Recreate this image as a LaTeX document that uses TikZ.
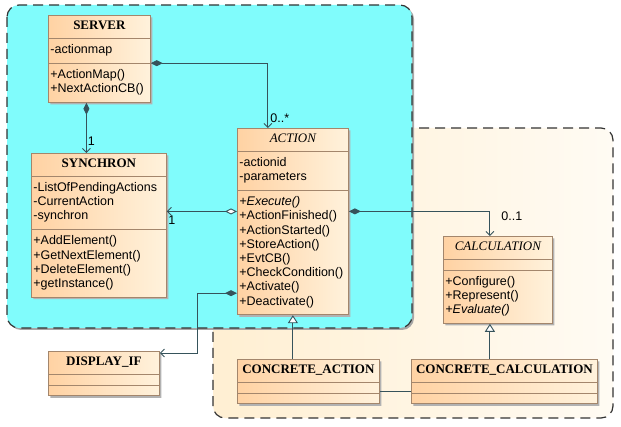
\documentclass[tikz,border=0pt]{standalone}
\usepackage{fontspec}
\setmainfont{Liberation Sans}
\newfontfamily\clsserif{Liberation Serif}
\usepackage{tikz}
\usetikzlibrary{positioning,arrows.meta,shapes.multipart,shadows}
\definecolor{regioncyan}{HTML}{80FCFC}
\definecolor{regioncream}{HTML}{FFEFD2}
\definecolor{regionwhite}{HTML}{FFFBF3}
\definecolor{clsleft}{HTML}{FFD2A3}
\definecolor{clsright}{HTML}{FFF2DC}
\definecolor{clsline}{HTML}{A3866C}
\definecolor{linkgray}{HTML}{36535B}
\newcommand{\clsname}[1]{\makebox[\linewidth]{\clsserif\bfseries\fontsize{13}{14}\selectfont\rule[-3pt]{0pt}{12pt}#1}}
\newcommand{\clsabstract}[1]{\makebox[\linewidth]{\clsserif\itshape\fontsize{13}{14}\selectfont\rule[-3pt]{0pt}{12pt}#1}}

\begin{document}
\begin{tikzpicture}[x=1pt, y=-1pt,
    region/.style={draw=black!80, line width=1.2pt, dash pattern=on 10pt off 6pt, rounded corners=12pt},
    umlclass/.style={rectangle split, rectangle split parts=3, draw=clsline, line width=0.8pt, left color=clsleft, right color=clsright, anchor=north west, inner xsep=2pt, inner ysep=5pt, align=left, font=\fontsize{12.5}{14.2}\selectfont, rectangle split empty part height=0pt, rectangle split empty part depth=0pt, drop shadow={shadow xshift=2pt, shadow yshift=-2pt, fill=black!30, opacity=1}},
    link/.style={draw=linkgray, line width=0.9pt},
    comp/.style={link, {Diamond[length=12pt, width=6pt]}-{Straight Barb[length=4pt, width=8pt]}},
    aggr/.style={link, {Diamond[open, fill=white, length=12pt, width=6pt]}-{Straight Barb[length=4pt, width=8pt]}},
    gen/.style={link, -{Triangle[open, fill=white, length=8pt, width=10pt]}},
    mult/.style={font=\fontsize{12.5}{14}\selectfont, inner sep=1pt},
]
\useasboundingbox (0,0) rectangle (621,427);

% packages
\draw[region, left color=regioncream, right color=regionwhite] (213,128) rectangle (613,418);
\draw[region, fill=regioncyan, drop shadow={shadow xshift=2pt, shadow yshift=-2pt, fill=black!35, opacity=1}] (7,5) rectangle (412,328);

% classes
\node[umlclass, text width=98pt] (SRV) at (48,15) {\clsname{SERVER}
  \nodepart{two}\strut-actionmap\strut
  \nodepart{three}\strut+ActionMap()\\+NextActionCB()\strut};
\node[umlclass, text width=131pt] (SYN) at (31,153) {\clsname{SYNCHRON}
  \nodepart{two}\strut-ListOfPendingActions\\-CurrentAction\\-synchron\strut
  \nodepart{three}\strut+AddElement()\\+GetNextElement()\\+DeleteElement()\\+getInstance()\strut};
\node[umlclass, text width=107pt] (ACT) at (237,128) {\clsabstract{ACTION}
  \nodepart{two}\strut-actionid\\-parameters\strut
  \nodepart{three}\strut\textit{+Execute()}\\+ActionFinished()\\+ActionStarted()\\+StoreAction()\\+EvtCB()\\+CheckCondition()\\+Activate()\\+Deactivate()\strut};
\node[umlclass, text width=105pt] (CALC) at (443,236) {\clsabstract{CALCULATION}
  \nodepart{two}
  \nodepart{three}\strut+Configure()\\+Represent()\\\textit{+Evaluate()}\strut};
\node[umlclass, text width=107pt] (DSP) at (48,351) {\clsname{DISPLAY\_IF}\nodepart{two}\nodepart{three}};
\node[umlclass, text width=138pt] (CA) at (237,359) {\clsname{CONCRETE\_ACTION}\nodepart{two}\nodepart{three}};
\node[umlclass, text width=182pt] (CC) at (411,359) {\clsname{CONCRETE\_CALCULATION}\nodepart{two}\nodepart{three}};

% relations
\draw[comp] (SRV.two split east) -| ([xshift=-25pt]ACT.north) node[mult, at end, anchor=south west, xshift=1pt, yshift=4pt] {0..*};
\draw[comp] ([xshift=-13pt]SRV.south) -- ([xshift=-13pt]SRV.south |- SYN.north) node[mult, at end, anchor=south west, yshift=6pt] {1};
\draw[aggr] ([yshift=-21pt]ACT.two split west) -- ([yshift=-21pt]ACT.two split west -| SYN.east) node[mult, at end, anchor=north west, yshift=-3pt] {1};
\draw[comp] ([yshift=-21pt]ACT.two split east) -| ([xshift=-8pt]CALC.north) node[mult, at end, anchor=south west, xshift=10pt, yshift=14pt] {0..1};
\draw[comp] ([yshift=22pt]ACT.south west) -- ++(-40,0) |- ([yshift=-2pt]DSP.north east);
\draw[gen] (ACT.south |- CA.north) -- (ACT.south);
\draw[gen] ([xshift=-8pt]CALC.south |- CC.north) -- ([xshift=-8pt]CALC.south);
\draw[link] ([yshift=2pt]CA.two split east) -- ([yshift=2pt]CA.two split east -| CC.west);
\end{tikzpicture}
\end{document}
